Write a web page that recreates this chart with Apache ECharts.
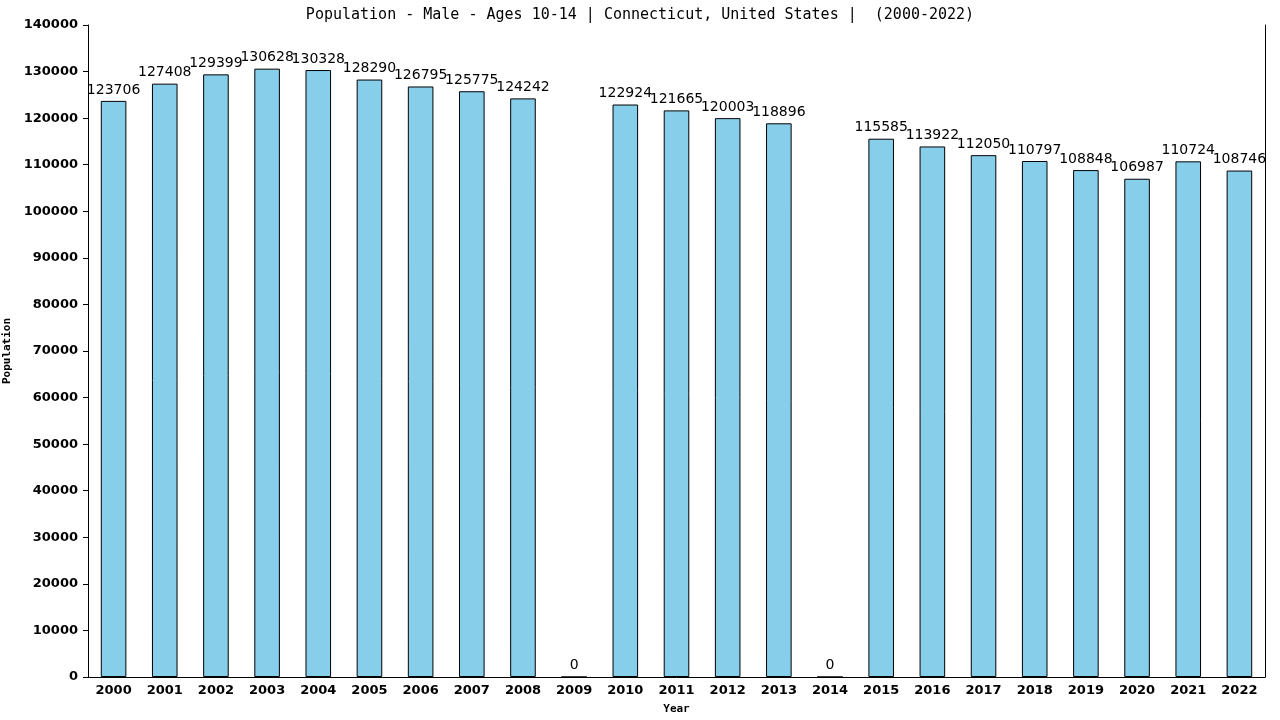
<!DOCTYPE html>
<html>
<head>
<meta charset="utf-8">
<script src="https://cdn.jsdelivr.net/npm/echarts@6/dist/echarts.min.js"></script>
<style>
  html, body { margin: 0; padding: 0; background: #fff; }
  #chart { width: 1280px; height: 720px; }
</style>
</head>
<body>
<div id="chart"></div>
<script>
// population, male, ages 10-14, Connecticut
var years = ['2000', '2001', '2002', '2003', '2004', '2005', '2006', '2007', '2008', '2009', '2010', '2011',
  '2012', '2013', '2014', '2015', '2016', '2017', '2018', '2019', '2020', '2021', '2022'];
var population = [123706, 127408, 129399, 130628, 130328, 128290, 126795, 125775, 124242, 0, 122924, 121665,
  120003, 118896, 0, 115585, 113922, 112050, 110797, 108848, 106987, 110724, 108746];

(function() {
  var chart = echarts.init(document.getElementById('chart'), null, { renderer: 'canvas' });
  var mono = '"DejaVu Sans Mono", monospace';
  var sans = '"DejaVu Sans", Verdana, sans-serif';

  chart.setOption({
    animation: false,
    backgroundColor: '#ffffff',
    title: {
      text: 'Population - Male - Ages 10-14 | Connecticut, United States |  (2000-2022)',
      left: 'center',
      top: 3,
      textStyle: { fontFamily: mono, fontSize: 15, fontWeight: 'normal', color: '#000' }
    },
    grid: { left: 88, right: 15, top: 25, bottom: 43, outerBoundsMode: 'none' },
    xAxis: {
      type: 'category',
      data: years,
      name: 'Year',
      nameLocation: 'middle',
      nameGap: 27,
      nameTextStyle: { fontFamily: mono, fontSize: 11, fontWeight: 'bold', color: '#000' },
      axisLine: { lineStyle: { color: '#000', width: 1 } },
      axisTick: { show: false },
      axisLabel: { color: '#000', fontFamily: sans, fontSize: 13, fontWeight: 'bold', margin: 7, interval: 0 }
    },
    yAxis: [{
      type: 'value',
      min: 0,
      max: 140000,
      interval: 10000,
      name: 'Population',
      nameLocation: 'middle',
      nameGap: 58,
      nameTextStyle: { fontFamily: mono, fontSize: 11, fontWeight: 'bold', color: '#000' },
      axisLine: { show: true, lineStyle: { color: '#000', width: 1 } },
      axisTick: { show: true, length: 5, lineStyle: { color: '#000' } },
      axisLabel: {
        color: '#000', fontFamily: sans, fontSize: 13, fontWeight: 'bold', margin: 10,
        formatter: function(v) { return String(v); }
      },
      splitLine: { show: false }
    }, {
      type: 'value',
      min: 0,
      max: 140000,
      position: 'right',
      axisLine: { show: true, lineStyle: { color: '#000', width: 1 } },
      axisTick: { show: false },
      axisLabel: { show: false },
      splitLine: { show: false }
    }],
    series: [{
      type: 'bar',
      data: population,
      barWidth: '50%',
      itemStyle: { color: '#87ceeb', borderColor: '#000', borderWidth: 1 },
      label: {
        show: true,
        position: 'top',
        distance: 4,
        color: '#000',
        fontFamily: sans,
        fontSize: 14,
        formatter: '{c}'
      }
    }]
  });
})();
</script>
</body>
</html>
